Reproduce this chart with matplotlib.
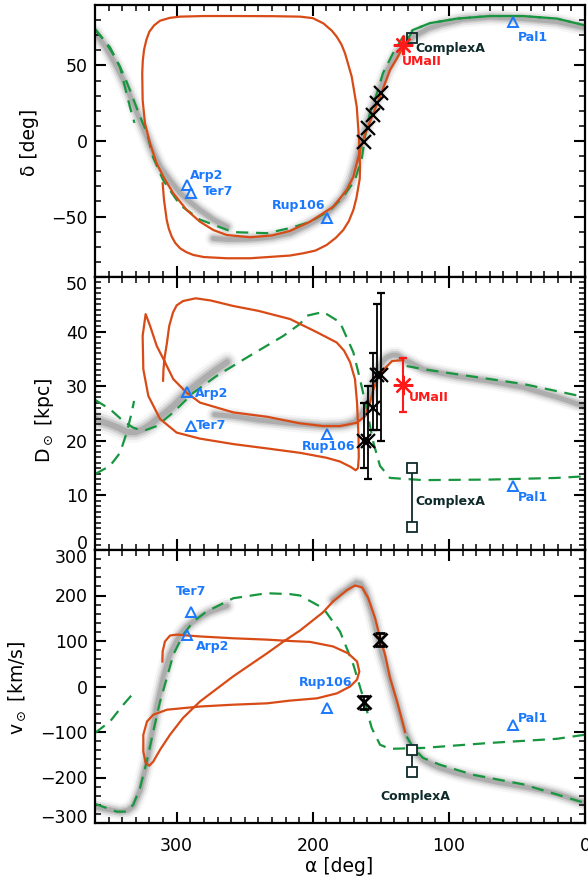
import matplotlib
matplotlib.use('Agg')
import matplotlib.pyplot as plt
from matplotlib.ticker import MultipleLocator
import matplotlib.transforms as mtransforms

plt.rcParams['font.family'] = ['DejaVu Sans']

# ---------------- data ----------------
# gray stream (model particles), two tails per panel
stream_top_a_ra = [360, 352, 343.8, 338, 332, 327, 321.8, 317, 312.2, 305, 297.5, 290, 282.9, 273, 263]
stream_top_a_dec = [72, 62, 49, 38, 25, 14, 2.6, -8, -17, -26, -34.4, -40.5, -45.7, -52, -56.9]
stream_top_b_ra = [273, 262, 250, 240, 230, 216.7, 205, 192.5, 185, 177.8, 172, 167.5, 163.8, 158, 150.6, 145, 138.1, 132, 126.4, 115, 106.5, 90, 69.8, 45.5, 20.6, 0]
stream_top_b_dec = [-64.5, -65.2, -65, -64.5, -63.5, -61, -56, -50, -44, -37, -26, -12.6, 0.7, 16, 34, 47, 58, 64.5, 69, 74.5, 77, 80.5, 82, 81, 79, 75]

stream_mid_a_ra = [360, 355, 349, 342, 336.5, 330, 324.7, 319, 314.4, 308, 302.7, 292.4, 285, 277.7, 270, 263]
stream_mid_a_dist = [24.0, 23.5, 23.0, 22.3, 21.6, 21.6, 22.1, 23.0, 24.0, 25.2, 26.3, 28.9, 30.4, 31.8, 33.2, 34.4]
stream_mid_b_ra = [272, 258.6, 240, 216.7, 192.5, 180, 174.9, 169, 165.3, 161.5, 158, 155, 152.1, 148.5, 145.5, 141.5, 138.1, 133.7, 126, 119, 106, 94, 69.8, 45.5, 20.6, 0]
stream_mid_b_dist = [24.8, 24.5, 23.8, 23.2, 22.7, 22.8, 23.0, 23.5, 24.5, 26.0, 28.2, 30.6, 33.0, 34.6, 35.3, 35.7, 35.7, 35.0, 34.0, 33.1, 32.4, 31.8, 30.9, 29.8, 28.0, 26.3]

stream_bot_a_ra = [360, 354, 349, 341.6, 336, 332, 329.2, 326.5, 324.7, 322, 319.6, 317, 314.4, 312, 310, 307.5, 304.9, 301, 297.5, 293, 288, 282, 275.6, 269, 263]
stream_bot_a_vel = [-264, -268, -271, -275, -272, -263, -245, -225, -200, -168, -128, -85, -40, -8, 19, 46, 70, 94, 114, 130, 142, 154, 164, 171, 177]
stream_bot_b_ra = [185, 179, 175, 171, 168, 165, 162, 159.4, 156, 152.8, 149, 146, 143.3, 140.5, 138.1, 135, 132.2, 129, 126.4, 122, 119, 112, 106.5, 95, 82.3, 65, 45.5, 30, 20.6, 0]
stream_bot_b_vel = [190, 205, 213, 222, 228, 226, 212, 190, 158, 118, 70, 42, 15, -15, -40, -72, -100, -122, -139, -152, -161, -172, -179, -190, -199, -210, -220, -229, -236, -256]

# orbit (orange), read per panel along the track
orbit_top_ra = [133.5, 138, 143.3, 147, 150.6, 155.5, 160.4, 164.0, 166.5, 170.2, 175.1, 184.9, 202.0, 216.7, 230, 246.1, 263.2, 273.1, 282.9, 292.6, 302.5, 309.8, 314.7, 319.6, 323.3, 325.0, 325.3, 324.9, 324.0, 322.3, 320.1, 316.5, 312.2, 305, 297.5, 280, 258.4, 230, 209.4, 200, 192.3, 186, 182.4, 179, 176.3, 171.4, 167.7, 166.0, 165.3, 165.5, 166.5, 168, 170.2, 173.5, 177.6, 183, 189.8, 198, 207.0, 216.7, 246.1, 263.2, 280, 287.8, 293, 297.5, 301, 303.6, 305.8, 307.3, 309.3, 310.3]
orbit_top_dec = [62.4, 55, 47, 38, 29.3, 18.3, 7.3, -1.5, -10.4, -23.6, -32.4, -43.5, -53.4, -59.5, -62.5, -63.7, -62.2, -58.9, -53.4, -45.7, -34.6, -23.6, -14.8, -1.5, 11.7, 27.1, 44.8, 53, 60.2, 66.8, 72.3, 76.6, 79.6, 81.5, 82.3, 82.7, 82.7, 82.6, 82.3, 81.3, 77.9, 73, 69, 64, 58, 42.6, 22.7, 0.7, -17, -25, -30.2, -38, -45.7, -53, -58.9, -64, -68.8, -72.5, -74.3, -75.8, -77.6, -77.6, -76.8, -75.4, -73.5, -71, -67.5, -63.3, -58, -52.3, -39, -28]

orbit_mid_ra = [133.5, 141.8, 148.1, 152.7, 155.5, 158.0, 161.6, 167.7, 180.0, 192.5, 209.4, 233.6, 258.4, 282.9, 292.6, 302.5, 309.8, 314.7, 319.6, 322.8, 325.0, 324.5, 320.8, 312.2, 300.0, 282.9, 258.4, 233.6, 209.4, 190, 180.0, 172, 168.5, 166.8, 166.2, 166.4, 167.5, 169.0, 172.6, 177, 182.4, 197.1, 216.7, 240, 258.6, 275, 286, 295.3, 300, 302.7, 305.5, 307.1, 309, 309.7, 310.0]
orbit_mid_dist = [34.8, 34.6, 33.0, 31.3, 29.4, 27.0, 24.5, 23.3, 22.7, 22.7, 23.2, 24.4, 25.2, 27.0, 28.8, 31.3, 35.0, 37.4, 41.1, 43.2, 39.2, 33.1, 28.2, 24.0, 21.5, 20.4, 19.4, 18.6, 17.8, 16.9, 16.2, 15.2, 14.6, 15.0, 17.0, 20.8, 27.0, 31.3, 34.4, 36.5, 38.0, 39.9, 42.3, 43.8, 44.7, 45.7, 46.1, 45.6, 44.8, 43.5, 41, 38.0, 35, 33.0, 31.0]

orbit_bot_ra = [310.5, 310.3, 308.6, 304.9, 300.0, 282.9, 258.6, 233.6, 216.7, 202.0, 185.1, 174.1, 167.5, 165.8, 167.5, 172.6, 182.2, 196.9, 216.7, 233.6, 258.6, 282.9, 307.1, 317.2, 321.8, 324.5, 324.5, 322.8, 320.1, 317.2, 312.2, 304.9, 295.3, 282.9, 258.6, 233.6, 221.9, 209.4, 192.5, 185.1, 174.9, 169.0, 163.8, 159.4, 154.3, 150.6, 146.9, 143.3, 138.1, 132.2]
orbit_bot_vel = [55, 77, 99, 112, 114, 110, 106, 103, 100, 98, 88, 73, 55, 33, 15, 0, -15, -26, -31, -37, -40, -44, -51, -62, -77, -106, -143, -168, -174, -165, -139, -106, -69, -33, 22, 73, 98, 123, 163, 187, 212, 222, 218, 195, 151, 107, 70, 19, -33, -100]

# comparison orbit (green dashed): three pieces per panel, joined across alpha = 0/360
green_top_c_ra = [131, 126.4, 113.9, 94, 69.8, 45.5, 20.6, 0]
green_top_c_dec = [66, 73.5, 78, 81, 82.7, 82.7, 81, 76.5]
green_top_a_ra = [360, 352, 345, 339, 334, 329, 324.5, 321.8, 317.4, 310, 297.5, 282.9, 258.6, 233.6, 216.7, 202, 187.3, 177.8, 169, 163.8, 161.7, 158, 152.8, 148.4, 141.1, 133.7, 126.4, 113.9, 94, 69.8, 45.5, 20.6, 0]
green_top_a_dec = [74, 65, 55, 44, 33, 21, 11, 5.3, -10.6, -25.8, -42.4, -52, -60.3, -61, -57.6, -53.6, -45.7, -37, -25.8, -10.6, 2.6, 18.5, 31.8, 45, 58, 69, 73.5, 78, 81, 82.7, 82.7, 81, 76.5]
green_top_b_ra = [360, 349, 341.6, 338, 334.3, 331]
green_top_b_dec = [74, 62, 49, 35.7, 22.5, 12]

green_mid_c_ra = [131, 118.8, 94.3, 69.8, 45.3, 20.8, 0]
green_mid_c_dist = [33.7, 33.1, 32.2, 31.3, 30.4, 29.1, 28.0]
green_mid_a_ra = [360, 349.0, 339.2, 331.9, 324.5, 314.7, 302.5, 287.8, 270.6, 246.1, 221.7, 209.4, 204.5, 192.3, 180.0, 170.2, 165.3, 160.4, 155.5, 150.6, 143.3, 118.8, 69.8, 20.8, 0]
green_mid_a_dist = [27.5, 25.8, 23.6, 22.4, 21.8, 22.7, 25.2, 28.8, 31.9, 35.6, 39.2, 41.4, 42.9, 43.6, 41.7, 36.2, 31.3, 25.8, 19.7, 15.4, 13.2, 12.8, 12.9, 13.2, 13.5]
green_mid_b_ra = [360, 349.0, 341.6, 336.7, 333, 331.3]
green_mid_b_dist = [13.9, 15.4, 17.8, 21.5, 25.2, 27.3]

green_bot_c_ra = [131, 126.4, 119, 106.5, 82.3, 45.5, 0]
green_bot_c_vel = [-110, -134, -157, -172, -194, -215, -256]
green_bot_a_ra = [360, 344.1, 336.7, 331.9, 326.9, 322.0, 317.2, 312.2, 307.3, 302.5, 295.1, 287.8, 277.9, 258.4, 233.8, 216.7, 209.4, 192.3, 180.0, 170.2, 162.9, 156.7, 150.6, 143.3, 118.8, 69.8, 20.8, 0]
green_bot_a_vel = [-258, -275, -275, -260, -223, -165, -99, -33, 18, 70, 114, 143, 165, 194, 205, 203, 200, 172, 121, 48, -25, -91, -128, -137, -135, -124, -115, -106]
green_bot_b_ra = [360, 349, 339.2, 331.9]
green_bot_b_vel = [-102, -77, -40, -15]

# globular clusters (blue triangles)
gc_names = ['Arp2', 'Ter7', 'Rup106', 'Pal1']
gc_ra = [292.4, 289.5, 189.6, 52.9]
gc_dec = [-29, -34.4, -51, 79]
gc_dist = [28.9, 22.8, 21.2, 11.7]
gc_vel = [114, 164, -47, -84]

# stream fields (black crosses)
field_ra = [162.4, 159.4, 155.8, 152.8, 149.9]
field_dec = [-0.7, 8.6, 17.2, 25, 31.8]
field_dist = [20, 20, 26, 32, 32]
field_dist_lo = [5, 7, 4, 10, 12]
field_dist_hi = [7, 10, 10, 13, 15]
field_vel_ra = [162.4, 150.6]
field_vel = [-35, 103]
field_vel_err = [15, 15]

# UMa II (red asterisk)
umaii_ra = 133.5
umaii_dec = 63.3
umaii_dist = 30.2
umaii_dist_err = 5

# Complex A (squares)
complexa_ra = 127.4
complexa_dec = 68
complexa_dist = [15.1, 4.2]
complexa_vel = [-139, -189]

# ---------------- style ----------------
ORANGE = '#D84B16'
GREEN = '#17963F'
BLUE = '#1A78FF'
RED = '#FF1A1A'
DARK = '#0E2A2A'
GRAY = '#6A6A6A'
TICK_FS = 12.5
LABEL_FS = 13.5
ANN_FS = 9

fig = plt.figure(figsize=(5.88, 8.82), dpi=100)
L, W = 95 / 588, 490 / 588


def fy(px):
    return 1 - px / 882


ax1 = fig.add_axes([L, fy(277), W, fy(5) - fy(277)])
ax2 = fig.add_axes([L, fy(550), W, fy(277) - fy(550)])
ax3 = fig.add_axes([L, fy(823), W, fy(550) - fy(823)])


def draw_stream(ax, x, y, width=7.0):
    for lw, a in [(width * 1.7, 0.06), (width * 1.25, 0.12), (width * 0.85, 0.2), (width * 0.5, 0.3)]:
        ax.plot(x, y, color=GRAY, lw=lw, alpha=a, solid_capstyle='round',
                solid_joinstyle='round', zorder=1)


def draw_green(ax, x, y):
    ax.plot(x, y, color=GREEN, lw=1.6, ls=(0, (5.5, 3.5)), zorder=2)


def draw_orbit(ax, x, y):
    ax.plot(x, y, color=ORANGE, lw=1.6, zorder=3, solid_joinstyle='round')


# ---- top panel ----
draw_stream(ax1, stream_top_a_ra, stream_top_a_dec)
draw_stream(ax1, stream_top_b_ra, stream_top_b_dec)
draw_green(ax1, green_top_a_ra, green_top_a_dec)
draw_green(ax1, green_top_b_ra, green_top_b_dec)
draw_green(ax1, green_top_c_ra, green_top_c_dec)
draw_orbit(ax1, orbit_top_ra, orbit_top_dec)
ax1.plot(gc_ra, gc_dec, ls='none', marker='^', ms=7, mfc='none', mec=BLUE, mew=1.4, zorder=5)
ax1.plot(field_ra, field_dec, ls='none', marker='x', ms=10, mec='k', mew=1.6, zorder=6)
ax1.plot([umaii_ra], [umaii_dec], ls='none', marker=(8, 2, 0), ms=14, mec=RED, mew=1.6, zorder=7)
ax1.plot([complexa_ra], [complexa_dec], ls='none', marker='s', ms=7, mfc='none', mec=DARK, mew=1.3, zorder=6)

ann = dict(fontsize=ANN_FS, fontweight='bold')
ax1.text(290.2, -22.5, gc_names[0], color=BLUE, ha='left', va='center', **ann)
ax1.text(280.7, -33.1, gc_names[1], color=BLUE, ha='left', va='center', **ann)
ax1.text(191.0, -43.0, gc_names[2], color=BLUE, ha='right', va='center', **ann)
ax1.text(49.4, 68.2, gc_names[3], color=BLUE, ha='left', va='center', **ann)
ax1.text(134.7, 52.3, 'UMaII', color=RED, ha='left', va='center', **ann)
ax1.text(124.9, 60.9, 'ComplexA', color=DARK, ha='left', va='center', **ann)

# ---- middle panel ----
draw_stream(ax2, stream_mid_a_ra, stream_mid_a_dist, width=9.0)
draw_stream(ax2, stream_mid_b_ra, stream_mid_b_dist)
draw_green(ax2, green_mid_a_ra, green_mid_a_dist)
draw_green(ax2, green_mid_b_ra, green_mid_b_dist)
draw_green(ax2, green_mid_c_ra, green_mid_c_dist)
draw_orbit(ax2, orbit_mid_ra, orbit_mid_dist)
ax2.plot(gc_ra, gc_dist, ls='none', marker='^', ms=7, mfc='none', mec=BLUE, mew=1.4, zorder=5)
ax2.errorbar(field_ra, field_dist, yerr=[field_dist_lo, field_dist_hi], ls='none', marker='x',
             ms=10, mec='k', mew=1.6, ecolor='k', elinewidth=1.3, capsize=3, capthick=1.3, zorder=6)
ax2.errorbar([umaii_ra], [umaii_dist], yerr=[umaii_dist_err], ls='none', marker=(8, 2, 0), ms=14,
             mec=RED, mew=1.6, ecolor=RED, elinewidth=1.5, capsize=3, capthick=1.5, zorder=7)
ax2.plot([complexa_ra, complexa_ra], complexa_dist, color=DARK, lw=1.3, marker='s', ms=7,
         mfc='white', mec=DARK, mew=1.3, zorder=6)

ax2.text(286.5, 28.7, gc_names[0], color=BLUE, ha='left', va='center', **ann)
ax2.text(285.8, 22.8, gc_names[1], color=BLUE, ha='left', va='center', **ann)
ax2.text(188.6, 18.9, gc_names[2], color=BLUE, ha='center', va='center', **ann)
ax2.text(49.4, 9.7, gc_names[3], color=BLUE, ha='left', va='center', **ann)
ax2.text(129.3, 28.0, 'UMaII', color=RED, ha='left', va='center', **ann)
ax2.text(124.9, 8.8, 'ComplexA', color=DARK, ha='left', va='center', **ann)

# ---- bottom panel ----
draw_stream(ax3, stream_bot_a_ra, stream_bot_a_vel)
draw_stream(ax3, stream_bot_b_ra, stream_bot_b_vel)
draw_green(ax3, green_bot_a_ra, green_bot_a_vel)
draw_green(ax3, green_bot_b_ra, green_bot_b_vel)
draw_green(ax3, green_bot_c_ra, green_bot_c_vel)
draw_orbit(ax3, orbit_bot_ra, orbit_bot_vel)
ax3.plot(gc_ra, gc_vel, ls='none', marker='^', ms=7, mfc='none', mec=BLUE, mew=1.4, zorder=5)
ax3.errorbar(field_vel_ra, field_vel, yerr=field_vel_err, ls='none', marker='x', ms=10, mec='k',
             mew=2.0, ecolor='k', elinewidth=1.3, capsize=3.5, capthick=1.6, zorder=6)
ax3.plot([complexa_ra, complexa_ra], complexa_vel, color=DARK, lw=1.3, marker='s', ms=7,
         mfc='white', mec=DARK, mew=1.3, zorder=6)

ax3.text(300.5, 208.8, gc_names[1], color=BLUE, ha='left', va='center', **ann)
ax3.text(285.8, 88.4, gc_names[0], color=BLUE, ha='left', va='center', **ann)
ax3.text(190.4, 9.2, gc_names[2], color=BLUE, ha='center', va='center', **ann)
ax3.text(49.4, -69.5, gc_names[3], color=BLUE, ha='left', va='center', **ann)
ax3.text(124.7, -241.3, 'ComplexA', color=DARK, ha='center', va='center', **ann)

# ---- axes styling ----
for ax in (ax1, ax2, ax3):
    ax.set_xlim(360, 0)
    ax.xaxis.set_major_locator(MultipleLocator(100))
    ax.xaxis.set_minor_locator(MultipleLocator(10))
    ax.tick_params(which='both', direction='in', top=True, right=True, labelsize=TICK_FS)
    ax.tick_params(which='major', length=8, width=1.5, pad=5)
    ax.tick_params(which='minor', length=4, width=1.1)
    ax.tick_params(axis='x', which='major', pad=10)
    for s in ax.spines.values():
        s.set_linewidth(1.6)

ax1.set_ylim(-90, 90)
ax1.yaxis.set_major_locator(MultipleLocator(50))
ax1.yaxis.set_minor_locator(MultipleLocator(10))
ax1.set_yticks([-50, 0, 50])
ax1.tick_params(labelbottom=False)

ax2.set_ylim(0, 50)
ax2.set_yticks([0, 10, 20, 30, 40, 50])
ax2.set_yticklabels(['', '10', '20', '30', '40', ''])
ax2.yaxis.set_minor_locator(MultipleLocator(1))
ax2.tick_params(labelbottom=False)

ax3.set_ylim(-300, 300)
ax3.set_yticks([-300, -200, -100, 0, 100, 200, 300])
ax3.set_yticklabels(['', '\u2212200', '\u2212100', '0', '100', '200', ''])
ax3.yaxis.set_minor_locator(MultipleLocator(20))


def edge_label(ax, y, s, dy):
    tr = mtransforms.offset_copy(ax.get_yaxis_transform(), fig=fig, x=-7, y=dy, units='dots')
    ax.text(0, y, s, transform=tr, ha='right', va='center', fontsize=TICK_FS)


edge_label(ax2, 50, '50', -8)
edge_label(ax2, 0, '0', 6)
edge_label(ax3, 300, '300', -8)
edge_label(ax3, -300, '\u2212300', 5)

fig.text(29.5 / 588, 1 - 142 / 882, '\u03b4 [deg]', rotation=90, ha='center', va='center', fontsize=LABEL_FS)
fig.text(45 / 588, 1 - 420 / 882, r'D$_\odot$ [kpc]', rotation=90, ha='center', va='center', fontsize=LABEL_FS)
fig.text(17.5 / 588, 1 - 687.5 / 882, r'v$_\odot$ [km/s]', rotation=90, ha='center', va='center', fontsize=LABEL_FS)
fig.text(339 / 588, 1 - 866 / 882, '\u03b1 [deg]', ha='center', va='center', fontsize=LABEL_FS)

fig.savefig('out.png', dpi=100)
